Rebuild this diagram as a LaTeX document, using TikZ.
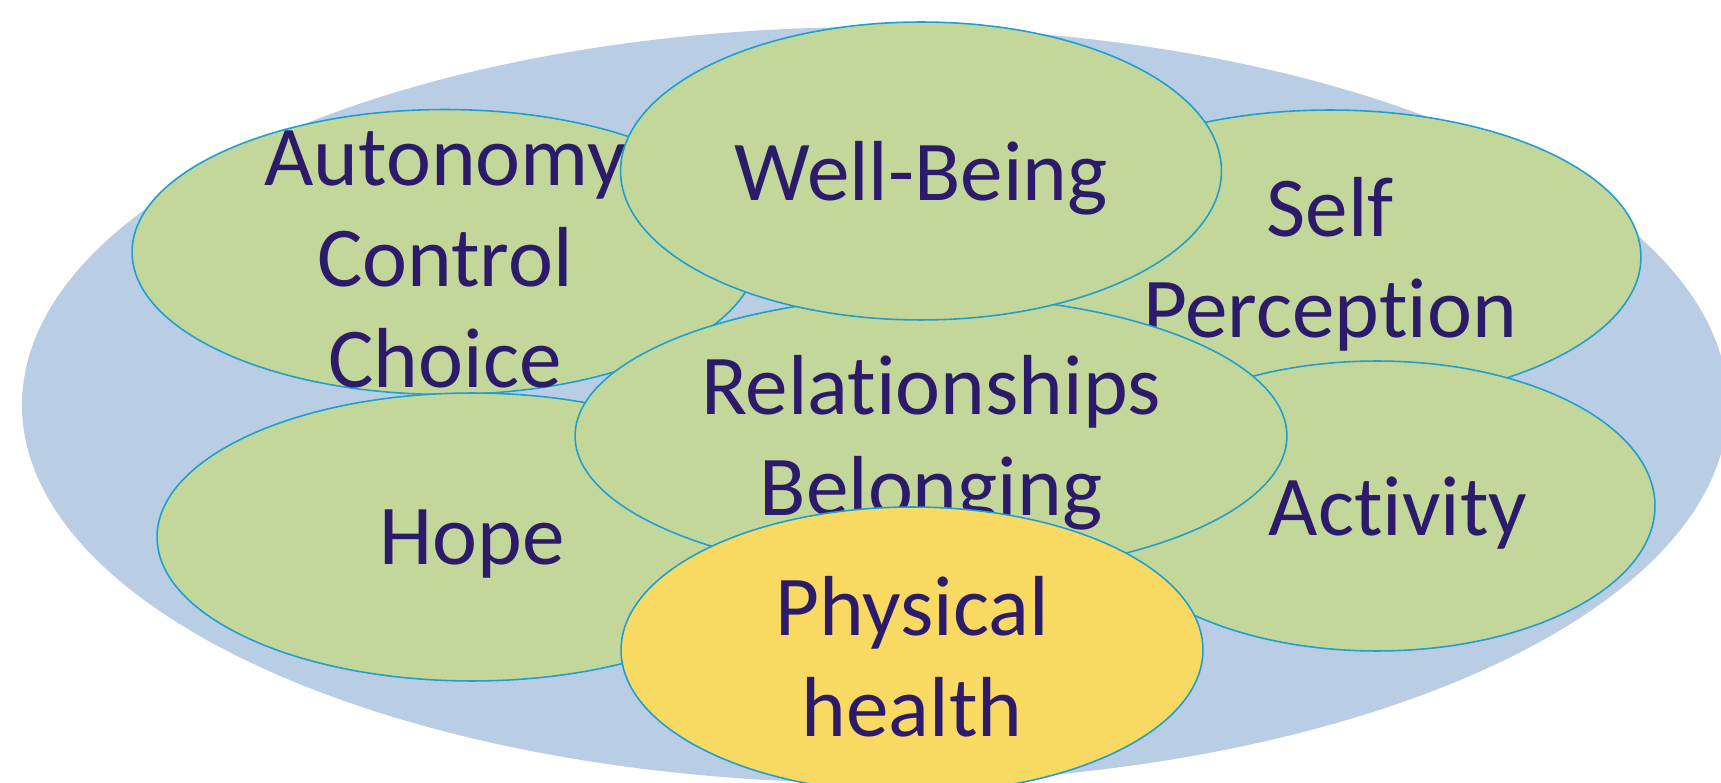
\documentclass[tikz,border=0pt]{standalone}
\usepackage{fontspec}
\setmainfont{Carlito}[Ligatures=NoCommon]
\usetikzlibrary{shapes.geometric}
\definecolor{backblue}{HTML}{B9CDE5}
\definecolor{leafgreen}{HTML}{C4D79B}
\definecolor{sunyellow}{HTML}{F8DA62}
\definecolor{rimblue}{HTML}{1E9FCF}
\definecolor{inkpurple}{HTML}{2C1A6B}
\begin{document}
\begin{tikzpicture}[
      x=0.02cm, y=-0.02cm,
      bubble/.style={ellipse, draw=rimblue, line width=0.9pt, fill=leafgreen,
                     inner sep=0pt},
      caption/.style={text=inkpurple, align=center, inner sep=0pt, yshift=-0.14cm,
                      font=\fontsize{48.5}{57.5}\selectfont}
    ]
      \useasboundingbox (0,0) rectangle (1721,783);
      \clip (0,0) rectangle (1721,783);
      \fill[backblue] (875,405) ellipse [x radius=853, y radius=378];
      % back row first, the centre ones on top
      \node[bubble, minimum width=12.52cm, minimum height=5.70cm,
            label={[caption]center:{Autonomy\\Control\\Choice}}] (autonomy) at (445,252) {};
      \node[bubble, minimum width=12.60cm, minimum height=5.76cm,
            label={[caption]center:Hope}] (hope) at (472,537) {};
      \node[bubble, minimum width=12.44cm, minimum height=5.88cm,
            label={[caption]center:{Self\\Perception}}] (self) at (1330,257) {};
      \node[bubble, minimum width=11.12cm, minimum height=5.80cm,
            label={[caption,xshift=0.42cm]center:Activity}] (activity) at (1377,506) {};
      \node[bubble, minimum width=14.24cm, minimum height=5.60cm,
            label={[caption]center:{Relationships\\Belonging}}] (relations) at (931,436) {};
      \node[bubble, minimum width=12.02cm, minimum height=5.96cm,
            label={[caption]center:Well-Being}] (wellbeing) at (921,171) {};
      \node[bubble, fill=sunyellow, minimum width=11.64cm, minimum height=5.72cm,
            label={[caption]center:{Physical\\health}}] (physical) at (912,650) {};
    \end{tikzpicture}
\end{document}
